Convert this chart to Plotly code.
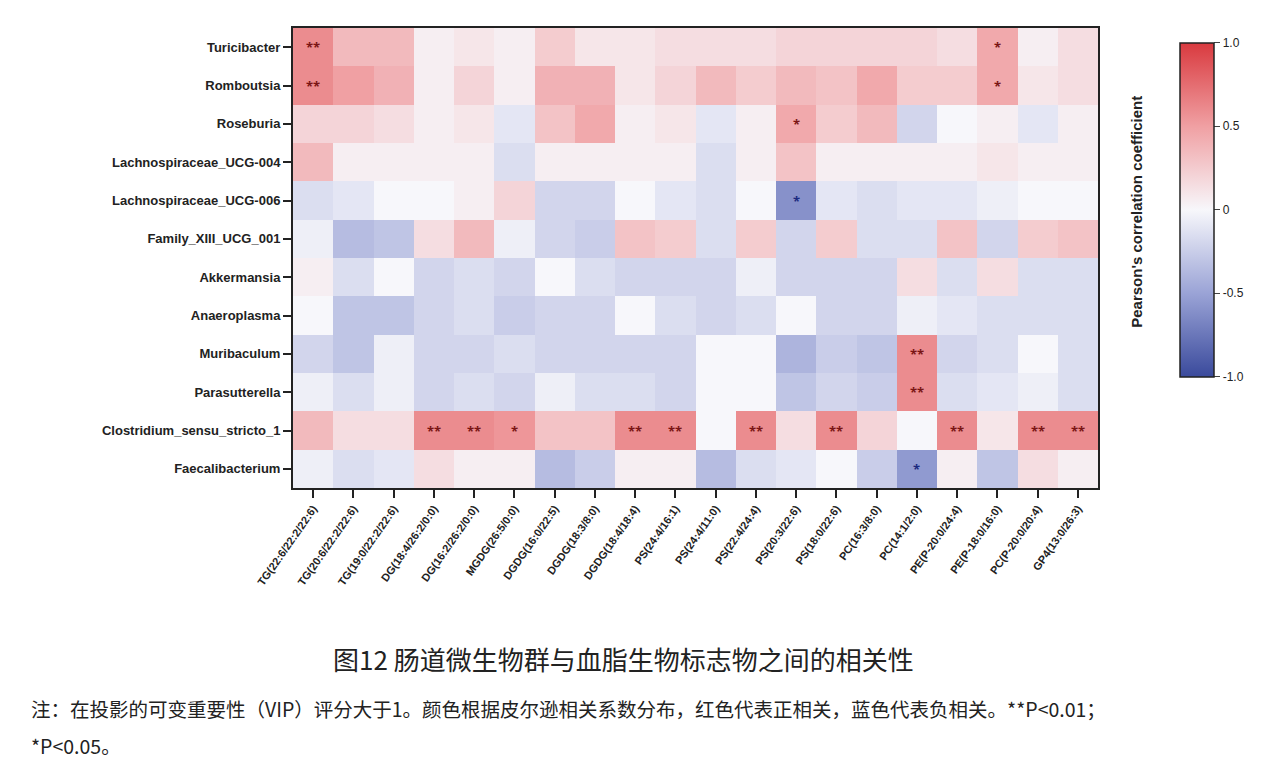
import plotly.graph_objects as go

rows = ["Turicibacter", "Romboutsia", "Roseburia", "Lachnospiraceae_UCG-004",
        "Lachnospiraceae_UCG-006", "Family_XIII_UCG_001", "Akkermansia", "Anaeroplasma",
        "Muribaculum", "Parasutterella", "Clostridium_sensu_stricto_1", "Faecalibacterium"]
cols = ["TG(22:6/22:2/22:6)", "TG(20:6/22:2/22:6)", "TG(19:0/22:2/22:6)", "DG(18:4/26:2/0:0)",
        "DG(16:2/26:2/0:0)", "MGDG(26:5/0:0)", "DGDG(16:0/22:5)", "DGDG(18:3/8:0)",
        "DGDG(18:4/18:4)", "PS(24:4/16:1)", "PS(24:4/11:0)", "PS(22:4/24:4)",
        "PS(20:3/22:6)", "PS(18:0/22:6)", "PC(16:3/8:0)", "PC(14:1/2:0)",
        "PE(P-20:0/24:4)", "PE(P-18:0/16:0)", "PC(P-20:0/20:4)", "GP4(13:0/26:3)"]

vals = [
    [0.6, 0.35, 0.35, 0.05, 0.1, 0.05, 0.25, 0.1, 0.1, 0.15, 0.15, 0.15, 0.2, 0.2, 0.2, 0.2, 0.15, 0.45, 0.05, 0.15],
    [0.6, 0.5, 0.4, 0.05, 0.2, 0.05, 0.4, 0.4, 0.1, 0.2, 0.35, 0.25, 0.35, 0.3, 0.45, 0.25, 0.25, 0.45, 0.1, 0.15],
    [0.2, 0.2, 0.15, 0.05, 0.1, -0.1, 0.3, 0.45, 0.05, 0.1, -0.1, 0.05, 0.45, 0.25, 0.35, -0.2, 0.0, 0.05, -0.1, 0.05],
    [0.35, 0.05, 0.05, 0.05, 0.05, -0.15, 0.05, 0.05, 0.05, 0.05, -0.15, 0.05, 0.3, 0.05, 0.05, 0.05, 0.05, 0.1, 0.05, 0.05],
    [-0.15, -0.1, 0.0, 0.0, 0.05, 0.2, -0.2, -0.2, 0.0, -0.1, -0.15, 0.0, -0.6, -0.1, -0.15, -0.1, -0.1, -0.05, 0.0, 0.0],
    [-0.05, -0.35, -0.3, 0.15, 0.35, -0.05, -0.2, -0.25, 0.3, 0.25, -0.15, 0.25, -0.2, 0.25, -0.15, -0.15, 0.3, -0.2, 0.25, 0.3],
    [0.05, -0.15, 0.0, -0.2, -0.15, -0.2, 0.0, -0.15, -0.2, -0.2, -0.2, -0.05, -0.2, -0.2, -0.2, 0.15, -0.15, 0.15, -0.15, -0.15],
    [0.0, -0.3, -0.3, -0.2, -0.15, -0.25, -0.2, -0.2, 0.0, -0.15, -0.2, -0.15, 0.0, -0.2, -0.2, -0.05, -0.1, -0.15, -0.15, -0.15],
    [-0.2, -0.3, -0.05, -0.2, -0.2, -0.15, -0.2, -0.2, -0.2, -0.2, 0.0, 0.0, -0.4, -0.25, -0.3, 0.6, -0.2, -0.15, 0.0, -0.15],
    [-0.05, -0.15, -0.05, -0.2, -0.15, -0.2, -0.05, -0.15, -0.15, -0.2, 0.0, 0.0, -0.3, -0.2, -0.25, 0.6, -0.15, -0.1, -0.05, -0.15],
    [0.35, 0.15, 0.15, 0.6, 0.6, 0.55, 0.3, 0.3, 0.6, 0.6, 0.0, 0.6, 0.15, 0.6, 0.2, 0.0, 0.6, 0.1, 0.6, 0.6],
    [-0.05, -0.15, -0.1, 0.15, 0.05, 0.05, -0.35, -0.25, 0.05, 0.05, -0.35, -0.15, -0.1, 0.0, -0.25, -0.55, 0.05, -0.3, 0.15, 0.05],
]

# significance marks: (row, col, label)
stars = [
    (0, 0, "**"), (0, 17, "*"), (1, 0, "**"), (1, 17, "*"), (2, 12, "*"), (4, 12, "*"),
    (8, 15, "**"), (9, 15, "**"),
    (10, 3, "**"), (10, 4, "**"), (10, 5, "*"), (10, 8, "**"), (10, 9, "**"), (10, 11, "**"),
    (10, 13, "**"), (10, 16, "**"), (10, 18, "**"), (10, 19, "**"), (11, 15, "*"),
]

colorscale = [[0, "#3a4a9c"], [0.25, "#9aa3d6"], [0.5, "#f7f7fb"], [0.75, "#f0a0a3"], [1, "#d93a3f"]]

fig = go.Figure(go.Heatmap(
    z=vals, x=cols, y=rows, zmin=-1, zmax=1, colorscale=colorscale,
    colorbar=dict(x=1.09, xanchor="left", y=0.99, yanchor="top", len=0.77, thickness=34,
                  tickvals=[1, 0.5, 0, -0.5, -1], ticktext=["1.0", "0.5", "0", "-0.5", "-1.0"],
                  ticks="outside", ticklen=6, outlinecolor="#222", outlinewidth=1.5,
                  tickfont=dict(size=12, family="Liberation Sans", color="#222")),
))

for r, c, s in stars:
    fig.add_annotation(x=cols[c], y=rows[r], text="<b>" + s + "</b>", showarrow=False,
                       font=dict(size=13, color="#1c2a80" if vals[r][c] < 0 else "#7a1515"))

fig.add_annotation(xref="paper", yref="paper", x=1.06, y=0.6, text="<b>Pearson's correlation coefficient</b>",
                   textangle=-90, showarrow=False, font=dict(size=15, family="Liberation Sans", color="#222"))
fig.add_annotation(xref="paper", yref="paper", x=0.41, y=-0.37, yanchor="middle",
                   text="图12 肠道微生物群与血脂生物标志物之间的相关性", showarrow=False,
                   font=dict(size=26, family="Noto Sans CJK SC", color="#222"))
fig.add_annotation(xref="paper", yref="paper", x=-0.328, xanchor="left", y=-0.48, yanchor="middle",
                   text="注：在投影的可变重要性（VIP）评分大于1。颜色根据皮尔逊相关系数分布，红色代表正相关，蓝色代表负相关。**P<0.01；",
                   showarrow=False, font=dict(size=19.5, family="Noto Sans CJK SC", color="#222"))
fig.add_annotation(xref="paper", yref="paper", x=-0.328, xanchor="left", y=-0.56, yanchor="middle",
                   text="*P<0.05。", showarrow=False, font=dict(size=19.5, family="Noto Sans CJK SC", color="#222"))

axis_common = dict(showline=True, linecolor="#222", linewidth=2, mirror=True, ticks="outside",
                   ticklen=8, tickcolor="#222", tickwidth=1.5)
fig.update_layout(
    width=1279, height=762, paper_bgcolor="white", plot_bgcolor="white",
    margin=dict(l=285, r=189, t=20, b=282),
    xaxis=dict(tickangle=-55, tickprefix="<b>", ticksuffix="</b>",
               tickfont=dict(size=11, family="Liberation Sans", color="#222"), **axis_common),
    yaxis=dict(autorange="reversed", tickprefix="<b>", ticksuffix="</b>",
               tickfont=dict(size=13, family="Liberation Sans", color="#222"), **axis_common),
)
fig.write_html("out.html")
